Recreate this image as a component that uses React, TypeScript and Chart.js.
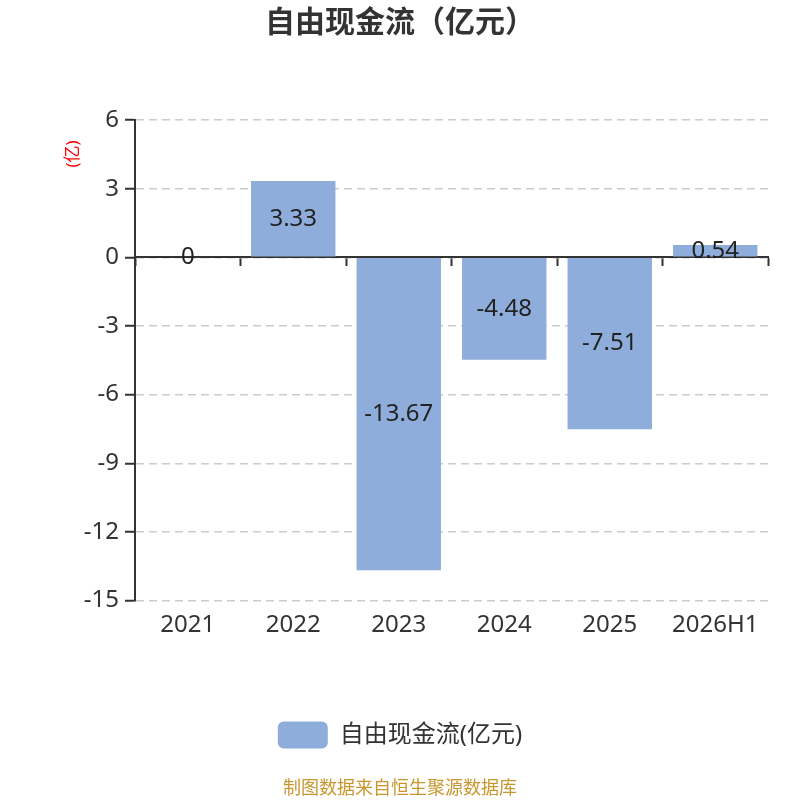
import { Chart, registerables } from "chart.js";
import { useEffect, useRef } from "react";

Chart.register(...registerables);

const years = ["2021", "2022", "2023", "2024", "2025", "2026H1"];
const freeCashFlow = [0, 3.33, -13.67, -4.48, -7.51, 0.54];
const yTicks = [6, 3, 0, -3, -6, -9, -12, -15];

const FONT = "'Noto Sans', 'Noto Sans CJK SC', sans-serif";

// value printed in the middle of each bar
const valueLabels = {
  id: "valueLabels",
  afterDatasetsDraw(chart: any) {
    const { ctx } = chart;
    const meta = chart.getDatasetMeta(0);
    ctx.save();
    ctx.font = `24px ${FONT}`;
    ctx.fillStyle = "#222";
    ctx.textAlign = "center";
    ctx.textBaseline = "middle";
    meta.data.forEach((bar: any, i: number) => {
      ctx.fillText(String(freeCashFlow[i]), bar.x, (bar.y + bar.base) / 2);
    });
    ctx.restore();
  },
};

// small red unit note left of the y axis
const unitLabel = {
  id: "unitLabel",
  afterDraw(chart: any) {
    const { ctx } = chart;
    ctx.save();
    ctx.translate(73, 154);
    ctx.rotate(-Math.PI / 2);
    ctx.font = `17px ${FONT}`;
    ctx.fillStyle = "#ff0000";
    ctx.textAlign = "center";
    ctx.textBaseline = "middle";
    ctx.fillText("(亿)", 0, 0);
    ctx.restore();
  },
};

const FreeCashFlowChart = () => {
  const canvasRef = useRef<HTMLCanvasElement | null>(null);
  const chartRef = useRef<Chart | null>(null);

  useEffect(() => {
    if (chartRef.current) chartRef.current.destroy();
    if (!canvasRef.current) return;

    chartRef.current = new Chart(canvasRef.current, {
      type: "bar",
      data: {
        labels: years,
        datasets: [
          {
            label: "自由现金流(亿元)",
            data: freeCashFlow,
            backgroundColor: "#8eaddb",
            categoryPercentage: 0.8,
            barPercentage: 1,
            xAxisID: "x",
          },
        ],
      },
      options: {
        animation: false,
        responsive: true,
        maintainAspectRatio: false,
        layout: { padding: { top: 5, left: 32, right: 32, bottom: 0 } },
        plugins: {
          title: {
            display: true,
            text: "自由现金流（亿元）",
            color: "#333",
            font: { family: FONT, size: 30, weight: "bold" },
            padding: { top: 0, bottom: 79 },
          },
          legend: {
            position: "bottom",
            labels: {
              color: "#333",
              font: { family: FONT, size: 24 },
              boxWidth: 50,
              boxHeight: 27,
              useBorderRadius: true,
              borderRadius: 6,
              padding: 10,
            },
          },
          subtitle: {
            display: true,
            position: "bottom",
            text: "制图数据来自恒生聚源数据库",
            color: "#c8962e",
            font: { family: FONT, size: 18 },
            padding: { top: 20, bottom: 0 },
          },
          tooltip: { enabled: false },
        },
        scales: {
          x: {
            type: "category",
            position: "bottom",
            offset: true,
            grid: { display: false, drawTicks: false },
            border: { display: false },
            ticks: {
              color: "#333",
              font: { family: FONT, size: 24 },
              padding: 10,
            },
            afterFit: (scale: any) => {
              scale.height += 62;
            },
          },
          x2: {
            type: "category",
            labels: years,
            position: { y: 0 },
            offset: true,
            grid: {
              offset: true,
              drawOnChartArea: false,
              drawTicks: true,
              tickLength: 8,
              tickColor: "#333",
              tickWidth: 2,
            },
            border: { display: true, color: "#333", width: 2 },
            ticks: { display: false },
          },
          y: {
            min: -15,
            max: 6,
            afterBuildTicks: (axis: any) => {
              axis.ticks = yTicks.map((v) => ({ value: v }));
            },
            afterFit: (scale: any) => {
              scale.width = 103;
            },
            grid: {
              color: "#cccccc",
              lineWidth: 1.5,
              tickLength: 10,
              tickColor: "#333",
              tickWidth: 2,
            },
            border: { display: true, color: "#333", width: 2, dash: [8, 5] },
            ticks: {
              color: "#333",
              font: { family: FONT, size: 24 },
              padding: 6,
            },
          },
        },
      },
      plugins: [valueLabels, unitLabel],
    });

    return () => {
      if (chartRef.current) {
        chartRef.current.destroy();
        chartRef.current = null;
      }
    };
  }, []);

  return (
    <div style={{ position: "fixed", left: 0, top: 0, width: 800, height: 800, background: "#fff" }}>
      <canvas ref={canvasRef} />
    </div>
  );
};

export default function App() {
  return <FreeCashFlowChart />;
}
